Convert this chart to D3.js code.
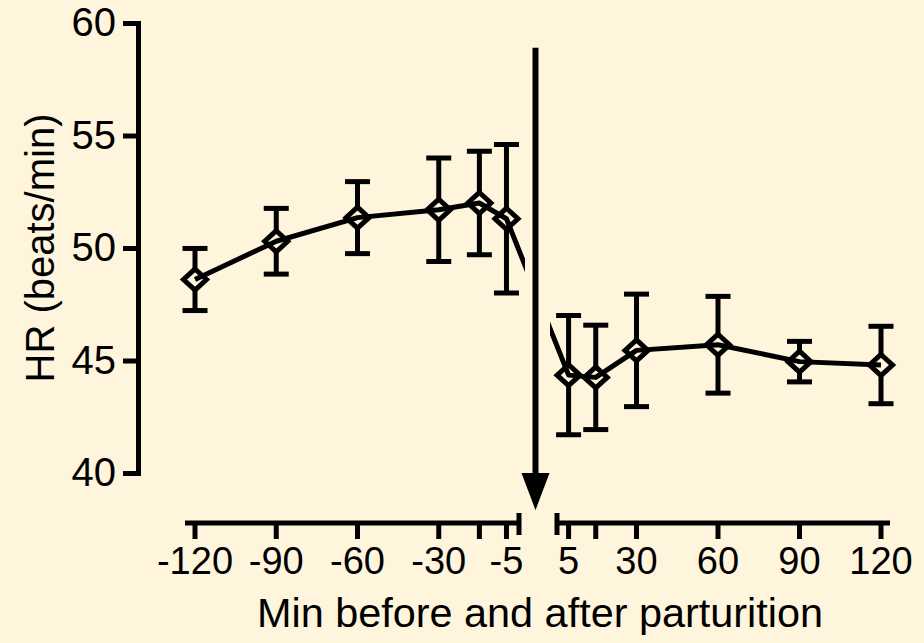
<!DOCTYPE html>
<html><head><meta charset="utf-8">
<script src="https://cdn.jsdelivr.net/npm/d3@7"></script>
<style>
body{margin:0;background:#FFF5DC;}
svg{display:block;}
text{font-family:"Liberation Sans",Arial,sans-serif;fill:#000;}
</style>
</head><body>
<svg id="chart" width="924" height="643"></svg>
<script>
// ---- data ----
const timesBefore = [-120, -90, -60, -30, -15, -5];
const timesAfter  = [5, 15, 30, 60, 90, 120];
const hrBefore    = [48.6, 50.3, 51.35, 51.7, 52.0, 51.3];
const hrAfter     = [44.35, 44.25, 45.45, 45.7, 44.95, 44.8];
const semBefore   = [1.38, 1.46, 1.6, 2.3, 2.3, 3.3];
const semAfter    = [2.65, 2.32, 2.5, 2.15, 0.9, 1.72];
const yTicks      = [40, 45, 50, 55, 60];
const xTicksBefore  = [-120, -90, -60, -30, -15, -5];
const xLabelsBefore = ["-120", "-90", "-60", "-30", "", "-5"];
const xTicksAfter   = [5, 15, 30, 60, 90, 120];
const xLabelsAfter  = ["5", "", "30", "60", "90", "120"];
const yTitle = "HR (beats/min)";
const xTitle = "Min before and after parturition";

// ---- layout ----
const W = 924, H = 643, BG = "#FFF5DC", SW = 5;
const svg = d3.select("#chart");
svg.append("rect").attr("width", W).attr("height", H).attr("fill", BG);

const y  = d3.scaleLinear().domain([40, 60]).range([473, 23]);
const xL = d3.scaleLinear().domain([-120, 0]).range([195, 520]);
const xR = d3.scaleLinear().domain([0, 120]).range([555, 881]);
const axisY = 523;
const yAxisX = 138;

const pts = timesBefore.map((t, i) => ({x: xL(t), m: hrBefore[i], s: semBefore[i]}))
  .concat(timesAfter.map((t, i) => ({x: xR(t), m: hrAfter[i], s: semAfter[i]})));

// ---- error bars ----
const eb = svg.append("g").attr("stroke", "#000").attr("stroke-width", SW);
pts.forEach(p => {
  eb.append("line").attr("x1", p.x).attr("x2", p.x).attr("y1", y(p.m + p.s)).attr("y2", y(p.m - p.s));
  [p.m + p.s, p.m - p.s].forEach(v => {
    eb.append("line").attr("x1", p.x - 12.5).attr("x2", p.x + 12.5).attr("y1", y(v)).attr("y2", y(v));
  });
});

// ---- diamonds ----
svg.append("g").selectAll("path").data(pts).join("path")
  .attr("d", "M0,-10.5L11.5,0L0,10.5L-11.5,0Z")
  .attr("transform", d => `translate(${d.x},${y(d.m)})`)
  .attr("fill", BG).attr("stroke", "#000").attr("stroke-width", SW)
  .attr("stroke-linejoin", "miter");

// ---- connecting line (hidden across the gap) ----
const gapStart = xL(0) + 5, gapEnd = xR(0) - 5;
const defs = svg.append("defs");
const cp = defs.append("clipPath").attr("id", "gapclip");
cp.append("rect").attr("x", 0).attr("y", 0).attr("width", gapStart).attr("height", H);
cp.append("rect").attr("x", gapEnd).attr("y", 0).attr("width", W - gapEnd).attr("height", H);
svg.append("path").datum(pts)
  .attr("d", d3.line().x(d => d.x).y(d => y(d.m)))
  .attr("fill", "none").attr("stroke", "#000").attr("stroke-width", SW)
  .attr("stroke-linejoin", "round")
  .attr("clip-path", "url(#gapclip)");

// ---- y axis ----
const gy = svg.append("g").attr("transform", `translate(${yAxisX},0)`)
  .call(d3.axisLeft(y).tickValues(yTicks).tickSize(15).tickSizeOuter(0).tickPadding(7));
gy.select(".domain").attr("stroke-width", SW).attr("stroke-linecap", "square");
gy.selectAll(".tick line").attr("stroke-width", SW);
gy.selectAll(".tick text").attr("font-size", 40).attr("font-family", "Liberation Sans, Arial, sans-serif").attr("fill", "#000");

svg.append("text")
  .attr("transform", `translate(54,${(y(40) + y(60)) / 2}) rotate(-90)`)
  .attr("text-anchor", "middle").attr("font-size", 40).text(yTitle);

// ---- x axes (broken) ----
function drawXAxis(scale, ticks, labels, x0, x1, barX) {
  const g = svg.append("g").attr("stroke", "#000").attr("stroke-width", SW);
  g.append("line").attr("x1", x0).attr("x2", x1).attr("y1", axisY).attr("y2", axisY);
  g.append("line").attr("x1", barX).attr("x2", barX).attr("y1", axisY - 10).attr("y2", axisY + 12);
  ticks.forEach(t => {
    g.append("line").attr("x1", scale(t)).attr("x2", scale(t)).attr("y1", axisY).attr("y2", axisY + 16);
  });
  ticks.forEach((t, i) => {
    if (!labels[i]) return;
    svg.append("text")
      .attr("x", scale(t)).attr("y", axisY + 51)
      .attr("text-anchor", "middle").attr("font-size", 38).text(labels[i]);
  });
}
drawXAxis(xL, xTicksBefore, xLabelsBefore, xL.range()[0] - 10, xL(0), xL(0) - 1);
drawXAxis(xR, xTicksAfter, xLabelsAfter, xR(0) + 2, xR.range()[1] + 9, xR(0) + 2);

svg.append("text")
  .attr("x", 540).attr("y", 627).attr("text-anchor", "middle")
  .attr("font-size", 40).attr("textLength", 566).attr("lengthAdjust", "spacingAndGlyphs")
  .text(xTitle);

// ---- parturition arrow ----
const ax = (xL(0) + xR(0)) / 2 - 2;
svg.append("line").attr("x1", ax).attr("x2", ax).attr("y1", y(58.9)).attr("y2", y(40) + 2)
  .attr("stroke", "#000").attr("stroke-width", 6);
svg.append("path")
  .attr("d", `M${ax - 14},${y(40)}L${ax + 14},${y(40)}L${ax},${y(38.35)}Z`)
  .attr("fill", "#000");
</script>
</body></html>
